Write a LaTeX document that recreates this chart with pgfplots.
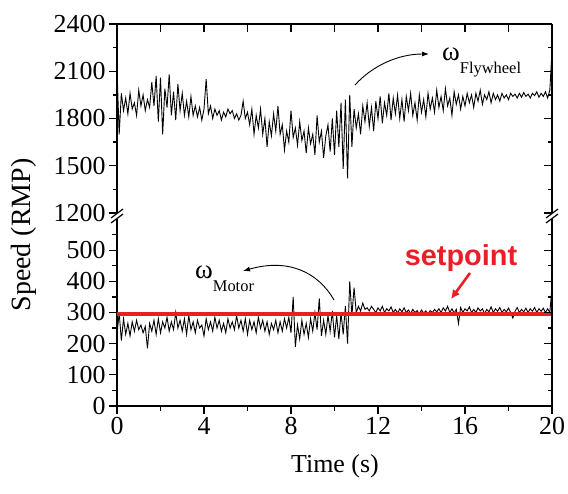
\documentclass[border=0pt]{standalone}
\usepackage{pgfplots}
\pgfplotsset{compat=1.18}
\usepackage{pgfplotstable}
\usepackage{fontspec}
\setmainfont{Liberation Serif}
\newfontfamily\spfont{Liberation Sans}
\usetikzlibrary{arrows.meta}
\definecolor{setred}{RGB}{235,30,40}

% t, flywheel speed, motor speed
\pgfplotstableread{
t fly motor
0.0 2110 230
0.1 1700 300
0.2 1960 210
0.3 1850 280
0.4 1930 230
0.5 1830 265
0.6 1960 225
0.7 1860 270
0.8 1900 240
0.9 1820 275
1.0 1980 245
1.1 1880 260
1.2 1950 235
1.3 1850 255
1.4 1920 185
1.5 1870 265
1.6 2030 240
1.7 1880 275
1.8 2070 230
1.9 1780 280
2.0 2060 235
2.1 1700 270
2.2 1990 250
2.3 1870 285
2.4 2080 240
2.5 1820 270
2.6 1970 245
2.7 1790 300
2.8 2020 250
2.9 1850 275
3.0 1960 240
3.1 1820 280
3.2 1910 230
3.3 1810 290
3.4 1940 245
3.5 1820 270
3.6 1880 235
3.7 1810 275
3.8 1870 250
3.9 1790 260
4.0 1860 225
4.1 2050 280
4.2 1830 245
4.3 1880 270
4.4 1800 240
4.5 1860 285
4.6 1820 250
4.7 1850 275
4.8 1790 240
4.9 1840 265
5.0 1810 235
5.1 1860 280
5.2 1830 250
5.3 1850 270
5.4 1800 245
5.5 1830 290
5.6 1790 250
5.7 1820 275
5.8 1910 240
5.9 1800 280
6.0 1840 230
6.1 1760 275
6.2 1860 245
6.3 1700 270
6.4 1820 235
6.5 1740 285
6.6 1860 250
6.7 1700 275
6.8 1800 240
6.9 1620 270
7.0 1780 230
7.1 1690 265
7.2 1830 245
7.3 1720 275
7.4 1880 235
7.5 1700 270
7.6 1760 240
7.7 1600 280
7.8 1720 250
7.9 1650 285
8.0 1850 235
8.1 1680 350
8.2 1740 190
8.3 1630 260
8.4 1780 215
8.5 1660 275
8.6 1720 230
8.7 1580 265
8.8 1740 220
8.9 1640 280
9.0 1700 240
9.1 1570 300
9.2 1820 245
9.3 1650 345
9.4 1720 225
9.5 1550 275
9.6 1690 230
9.7 1760 290
9.8 1590 240
9.9 1800 305
10.0 1570 220
10.1 1850 290
10.2 1620 215
10.3 1900 300
10.4 1480 230
10.5 1920 320
10.6 1420 200
10.7 1950 400
10.8 1620 290
10.9 1860 380
11.0 1740 300
11.1 1830 320
11.2 1700 305
11.3 1880 330
11.4 1780 310
11.5 1900 315
11.6 1750 305
11.7 1870 320
11.8 1720 310
11.9 1910 300
12.0 1800 315
12.1 1940 305
12.2 1770 320
12.3 1900 300
12.4 1820 312
12.5 1960 305
12.6 1790 318
12.7 1930 300
12.8 1830 310
12.9 1950 298
13.0 1800 312
13.1 1920 302
13.2 1780 315
13.3 1940 300
13.4 1850 308
13.5 1960 296
13.6 1820 310
13.7 1900 300
13.8 1790 306
13.9 1950 295
14.0 1840 308
14.1 1920 298
14.2 1810 305
14.3 1960 294
14.4 1860 306
14.5 1930 300
14.6 1840 310
14.7 1980 302
14.8 1870 312
14.9 1940 300
15.0 1850 315
15.1 1990 305
15.2 1880 320
15.3 1930 300
15.4 1820 312
15.5 1970 298
15.6 1890 310
15.7 1950 265
15.8 1860 316
15.9 1940 300
16.0 1880 312
16.1 1960 305
16.2 1900 318
16.3 1950 300
16.4 1870 310
16.5 1960 300
16.6 1910 315
16.7 1980 305
16.8 1890 312
16.9 1950 296
17.0 1920 310
17.1 1970 302
17.2 1900 318
17.3 1960 300
17.4 1920 312
17.5 1950 304
17.6 1910 316
17.7 1960 300
17.8 1930 310
17.9 1950 302
18.0 1920 314
18.1 1960 300
18.2 1940 282
18.3 1955 304
18.4 1930 316
18.5 1960 300
18.6 1935 310
18.7 1965 302
18.8 1940 314
18.9 1955 300
19.0 1930 312
19.1 1960 304
19.2 1945 316
19.3 1970 300
19.4 1935 312
19.5 1960 304
19.6 1940 314
19.7 1970 300
19.8 1930 312
19.9 1980 300
20.0 2230 380
}\speed

\pgfplotsset{
  brk/.style={
    scale only axis, width=435bp,
    xmin=0, xmax=20,
    axis line style={-, line width=1.8bp},
    every outer x axis line/.append style={-},
    every outer y axis line/.append style={-},
    tick style={line width=1.3bp, black},
    major tick length=8bp, minor tick length=4.5bp,
    ticklabel style={font=\fontsize{26}{30}\selectfont},
    /pgf/number format/assume math mode=true,
    /pgf/number format/1000 sep={},
  },
  upper/.style={brk, at={(117bp,-213bp)}, anchor=south west, height=189bp,
    ymin=1200, ymax=2400, ytick={1200,1500,1800,2100,2400},
    minor ytick={1350,1650,1950,2250}},
  lower/.style={brk, at={(117bp,-406bp)}, anchor=south west, height=187bp,
    ymin=0, ymax=600, ytick={0,100,...,500},
    minor ytick={50,150,...,550}},
}

\begin{document}
\begin{tikzpicture}
\useasboundingbox (0,0) rectangle (568bp,-494bp);

% upper panel: flywheel
\begin{axis}[upper, axis y line*=left, axis x line=none, tick align=outside]
\addplot[black, line width=0.9bp] table[x=t, y=fly]{\speed};
\end{axis}
\begin{axis}[upper, axis y line*=right, axis x line*=top, tick align=inside,
  xtick={0,2,...,20}, xticklabel=\empty, yticklabel=\empty]
\addplot[draw=none] coordinates {(0,1300)};
\end{axis}

% lower panel: motor
\begin{axis}[lower, axis y line*=left, axis x line*=bottom, tick align=outside,
  xtick={0,4,...,20}, minor xtick={2,6,...,18}]
\addplot[black, line width=0.9bp] table[x=t, y=motor]{\speed};
\addplot[setred, line width=3.5bp] coordinates {(0,295) (20,295)};
\end{axis}
\begin{axis}[lower, axis y line*=right, axis x line=none, tick align=inside,
  yticklabel=\empty]
\addplot[draw=none] coordinates {(0,100)};
\end{axis}

\begin{scope}[x=1bp, y=-1bp]
  % axis break marks
  \draw[line width=1.2bp] (111,218) -- (123,209) (111,223) -- (123,214);
  \draw[line width=1.2bp] (546,218) -- (558,209) (546,223) -- (558,214);
  % labels
  \node[rotate=90, font=\fontsize{28}{32}\selectfont] at (24,235) {Speed (RMP)};
  \node[font=\fontsize{26}{30}\selectfont] at (335,466) {Time (s)};
  % annotations
  \node[anchor=base west, inner sep=0pt, font=\fontsize{27}{30}\selectfont]
    at (442,60) {ω\raisebox{-13bp}{\fontsize{16.5}{18}\selectfont Flywheel}};
  \draw[line width=0.9bp, -{Latex[length=7bp,width=5bp]}]
    (355,85) .. controls (372,66) and (398,54) .. (429,54);
  \node[anchor=base west, inner sep=0pt, font=\fontsize{27}{30}\selectfont]
    at (195,278) {ω\raisebox{-13bp}{\fontsize{16.5}{18}\selectfont Motor}};
  \draw[line width=0.9bp, -{Latex[length=7bp,width=5bp]}]
    (334,300) .. controls (318,272) and (288,258) .. (243,271);
  \node[anchor=base, inner sep=0pt, text=setred,
    font=\spfont\bfseries\fontsize{29}{32}\selectfont] at (461,265) {setpoint};
  \draw[setred, line width=2.6bp, -{Latex[length=9bp,width=9bp]}]
    (470,273) -- (451,299);
\end{scope}
\end{tikzpicture}
\end{document}
